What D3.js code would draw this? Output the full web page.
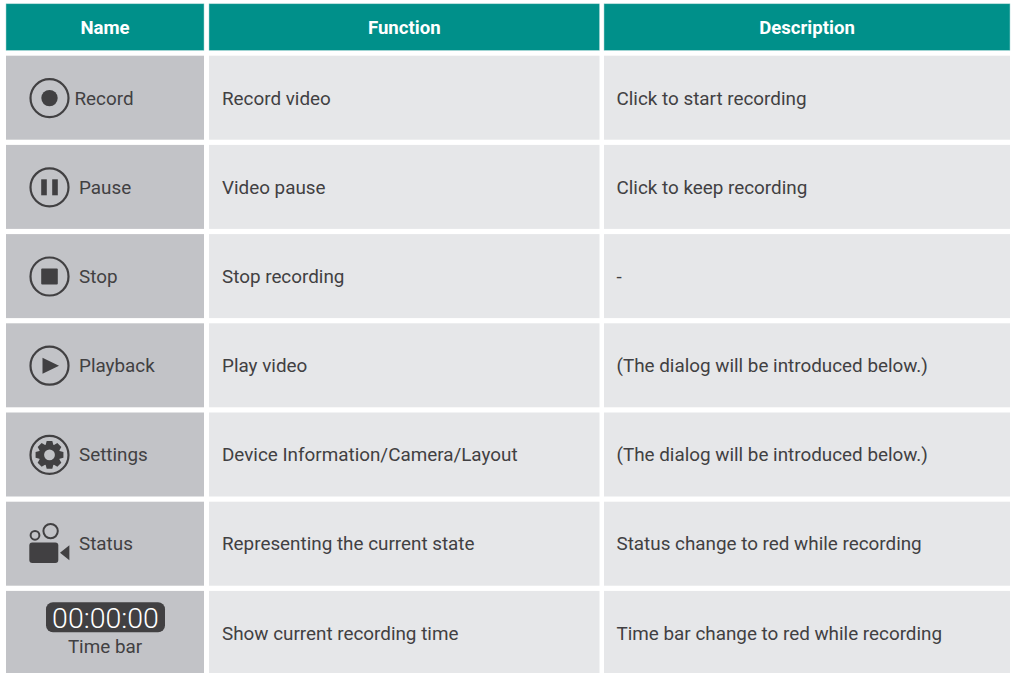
<!DOCTYPE html>
<html>
<head>
<meta charset="utf-8">
<script src="https://cdn.jsdelivr.net/npm/d3@7"></script>
<style>
  html, body { margin: 0; padding: 0; background: #fff; overflow: hidden; }
  svg { display: block; }
  text { font-family: Roboto, sans-serif; }
</style>
</head>
<body>
<script>
const headers = ['Name', 'Function', 'Description'];
const names = ['Record', 'Pause', 'Stop', 'Playback', 'Settings', 'Status', 'Time bar'];
const functions = [
  'Record video',
  'Video pause',
  'Stop recording',
  'Play video',
  'Device Information/Camera/Layout',
  'Representing the current state',
  'Show current recording time'
];
const descriptions = [
  'Click to start recording',
  'Click to keep recording',
  '-',
  '(The dialog will be introduced below.)',
  '(The dialog will be introduced below.)',
  'Status change to red while recording',
  'Time bar change to red while recording'
];
const timeLabel = '00:00:00';

const width = 1014;
const height = 673;
const teal = '#00908a';
const ink = '#414042';
const fontSize = 18.85;

const columns = [
  { x0: 6, x1: 204 },
  { x0: 209, x1: 599.5 },
  { x0: 604, x1: 1010 }
];
const headerTop = 3.8;
const headerBottom = 50.4;
const textX = [0, 222, 616.5];

const y = d3.scaleBand()
  .domain(names)
  .range([55.7, 55.7 + 7 * 89.2 - 5.2])
  .paddingInner(5.2 / 89.2);

// text baseline inside a row, status sits a hair higher
const baseline = name => y(name) + (name === 'Status' ? 48.2 : 48.85);

const svg = d3.select('body').append('svg')
  .attr('width', width)
  .attr('height', height)
  .attr('viewBox', [0, 0, width, height]);

// header
const head = svg.append('g');

head.selectAll('rect')
  .data(headers)
  .join('rect')
  .attr('x', (d, i) => columns[i].x0)
  .attr('y', headerTop)
  .attr('width', (d, i) => columns[i].x1 - columns[i].x0)
  .attr('height', headerBottom - headerTop)
  .attr('fill', teal)
  .attr('stroke', '#a9d8d5')
  .attr('stroke-width', 0.5);

head.selectAll('text')
  .data(headers)
  .join('text')
  .attr('x', (d, i) => (columns[i].x0 + columns[i].x1) / 2)
  .attr('y', 34)
  .attr('text-anchor', 'middle')
  .attr('font-size', 18.6)
  .attr('font-weight', 700)
  .attr('fill', '#fff')
  .text(d => d);

// cell backgrounds
const body = svg.append('g');

columns.forEach((c, i) => {
  body.append('g')
    .selectAll('rect')
    .data(names)
    .join('rect')
    .attr('x', c.x0)
    .attr('y', d => y(d))
    .attr('width', c.x1 - c.x0)
    .attr('height', y.bandwidth())
    .attr('fill', i === 0 ? '#c2c3c7' : '#e6e7e9');
});

// text columns
[functions, descriptions].forEach((list, k) => {
  body.append('g')
    .selectAll('text')
    .data(list)
    .join('text')
    .attr('x', textX[k + 1])
    .attr('y', (d, i) => baseline(names[i]))
    .attr('font-size', fontSize)
    .attr('fill', ink)
    .text(d => d);
});

// name column, the first one sits closer to its icon
body.append('g')
  .selectAll('text')
  .data(names)
  .join('text')
  .attr('x', d => d === 'Time bar' ? 105 : d === 'Record' ? 74.5 : 79)
  .attr('y', d => d === 'Time bar' ? 653 : baseline(d))
  .attr('text-anchor', d => d === 'Time bar' ? 'middle' : 'start')
  .attr('font-size', fontSize)
  .attr('fill', ink)
  .text(d => d);

// icons
const iconX = 49.5;
const iconY = d => y(d) + 42.4;

function ring(name) {
  return svg.append('g')
    .attr('transform', `translate(${iconX},${iconY(name)})`)
    .call(g => g.append('circle')
      .attr('r', 19)
      .attr('fill', 'none')
      .attr('stroke', ink)
      .attr('stroke-width', 2.2));
}

ring('Record').append('circle')
  .attr('r', 8.2)
  .attr('fill', ink);

ring('Pause').selectAll('rect')
  .data([-8.3, 2.7])
  .join('rect')
  .attr('x', d => d)
  .attr('y', -8)
  .attr('width', 5.6)
  .attr('height', 16)
  .attr('fill', ink);

ring('Stop').append('rect')
  .attr('x', -8.3)
  .attr('y', -8)
  .attr('width', 16.6)
  .attr('height', 16)
  .attr('rx', 1)
  .attr('fill', ink);

ring('Playback').append('path')
  .attr('d', 'M-7,-8L9.5,0L-7,8Z')
  .attr('fill', ink);

// gear with eight teeth
const gearPoints = d3.range(8).flatMap(i => {
  const a = i * Math.PI / 4;
  return [
    [a - 0.36, 10.8], [a - 0.2, 14.2], [a + 0.2, 14.2], [a + 0.36, 10.8]
  ];
});
const gear = ring('Settings');
gear.append('path')
  .attr('d', d3.lineRadial().curve(d3.curveLinearClosed)(gearPoints))
  .attr('fill', ink);
gear.append('circle')
  .attr('r', 5.4)
  .attr('fill', '#c2c3c7');

// status camera
const cam = svg.append('g')
  .attr('transform', `translate(0,${y('Status')})`);
cam.append('circle')
  .attr('cx', 35).attr('cy', 33.6).attr('r', 4.4)
  .attr('fill', 'none').attr('stroke', ink).attr('stroke-width', 2);
cam.append('circle')
  .attr('cx', 50.6).attr('cy', 29.4).attr('r', 7.2)
  .attr('fill', 'none').attr('stroke', ink).attr('stroke-width', 2);
cam.append('rect')
  .attr('x', 29.3).attr('y', 40.8).attr('width', 29).attr('height', 20.4).attr('rx', 3)
  .attr('fill', ink);
cam.append('path')
  .attr('d', 'M60,51L69.4,43.6V58.6Z')
  .attr('fill', ink);

// time bar
svg.append('rect')
  .attr('x', 46).attr('y', 602.3).attr('width', 119).attr('height', 30).attr('rx', 7)
  .attr('fill', ink);
svg.append('text')
  .attr('x', 105.5).attr('y', 627.7)
  .attr('text-anchor', 'middle')
  .attr('font-size', 28.5)
  .attr('font-weight', 300)
  .attr('fill', '#fff')
  .text(timeLabel);
</script>
</body>
</html>
